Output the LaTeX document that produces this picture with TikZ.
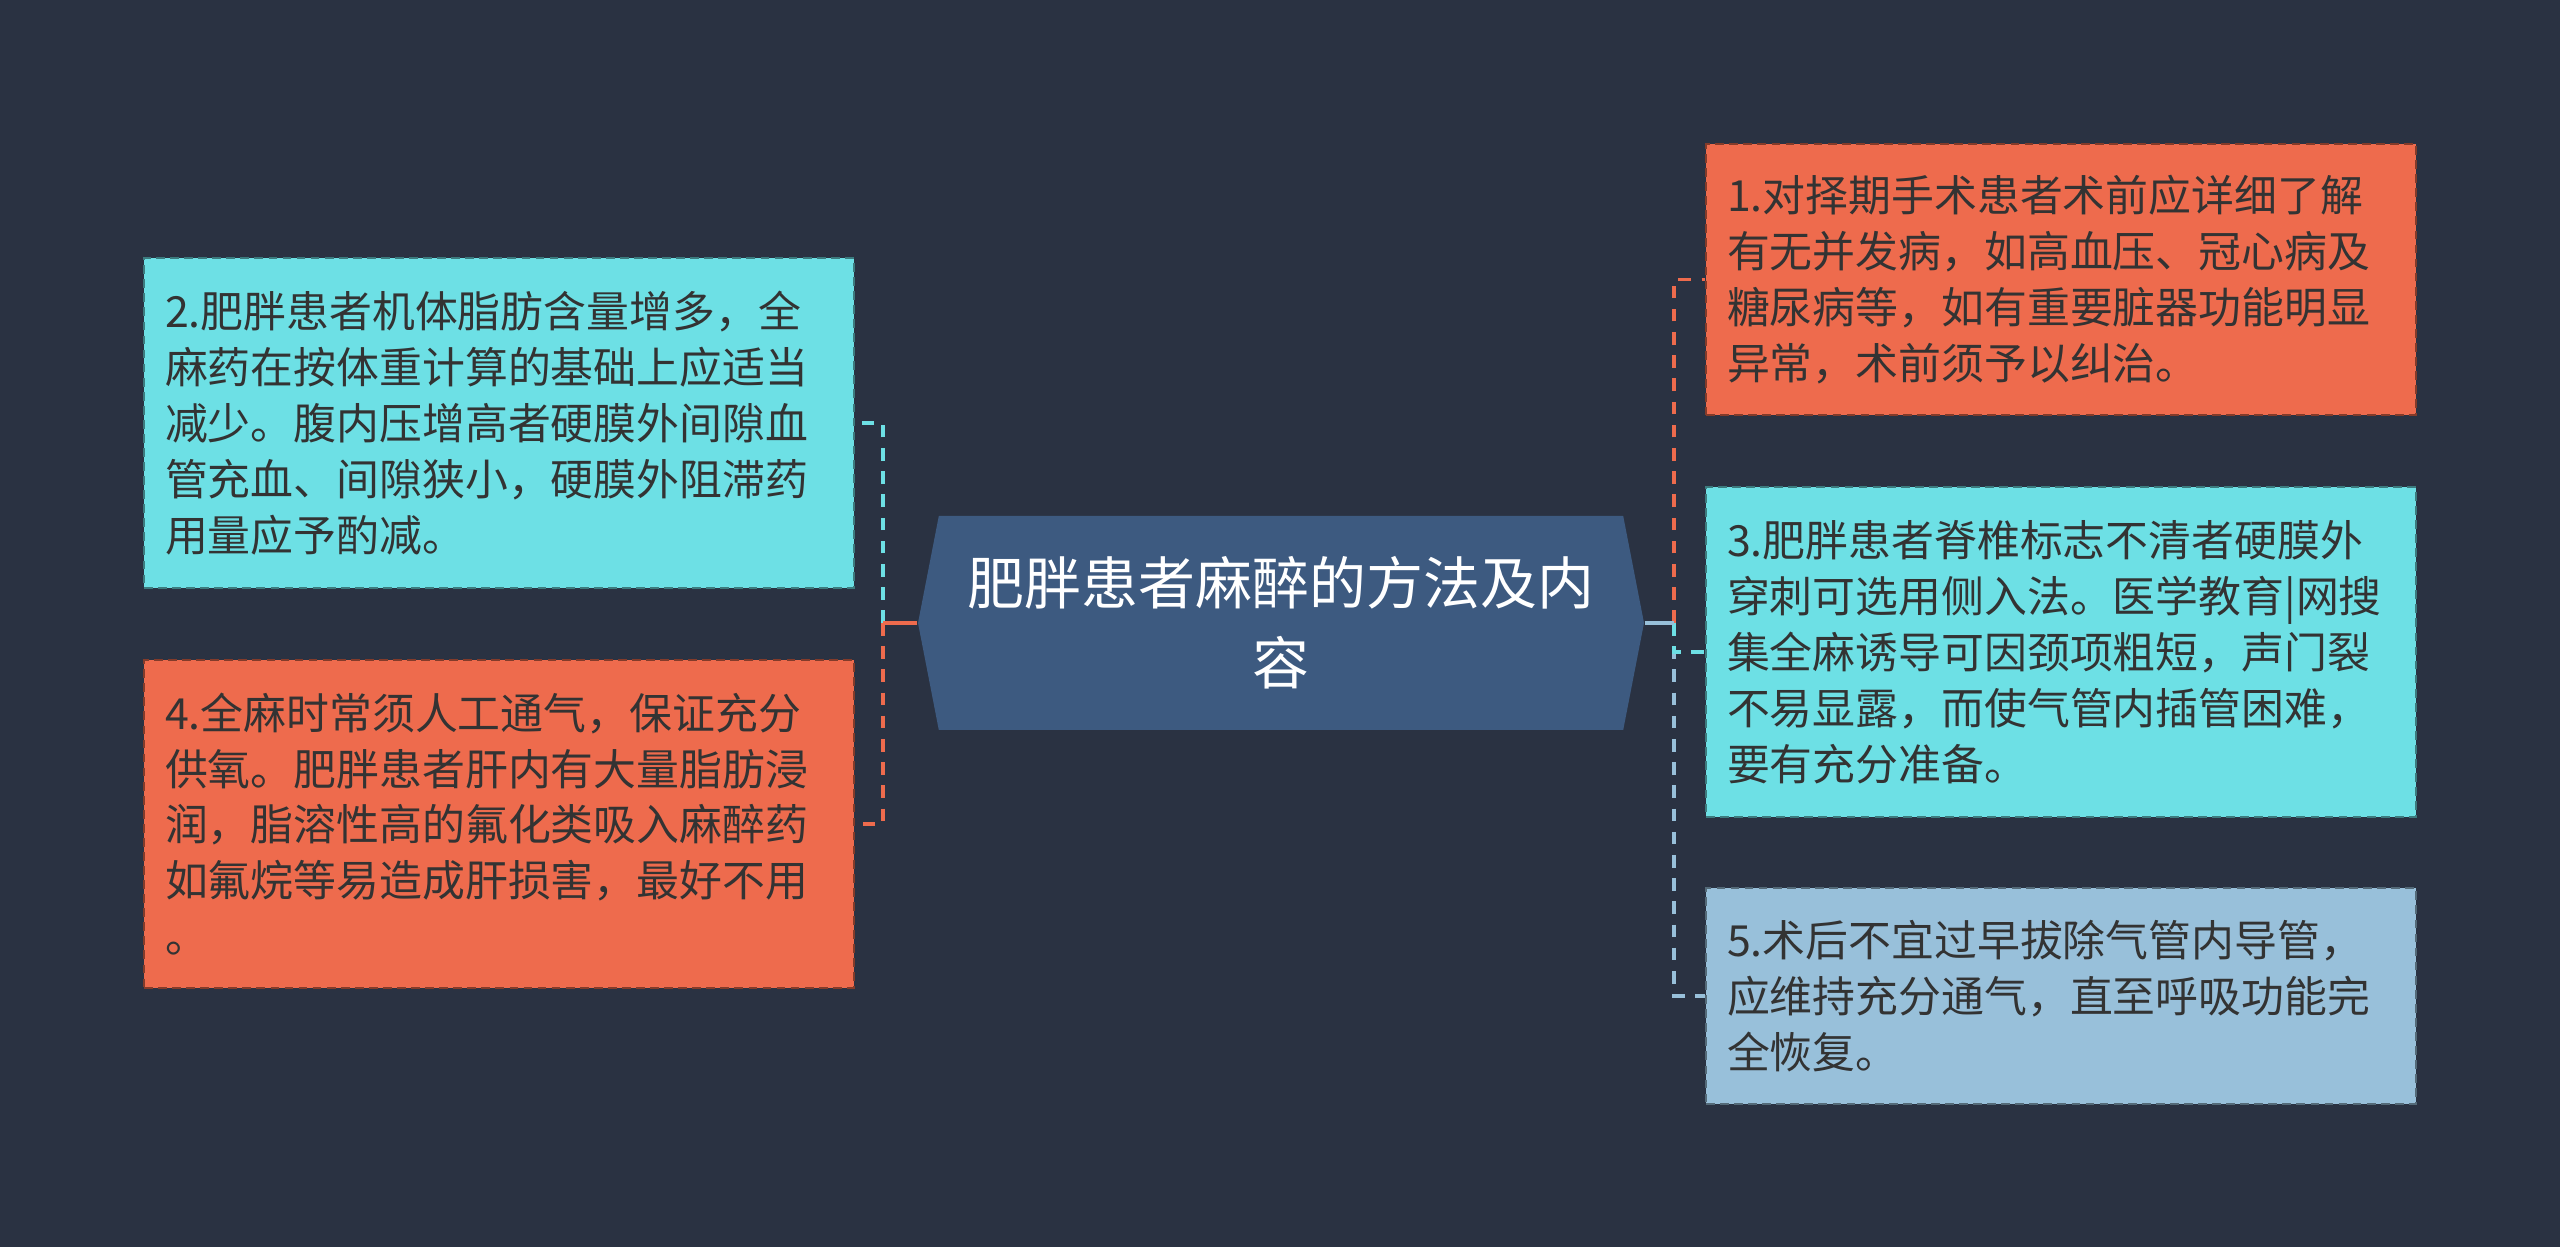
\documentclass[tikz,border=0pt]{standalone}
\usepackage{fontspec}
\setmainfont{Noto Sans CJK SC}
\usepackage{tikz}
\usetikzlibrary{shapes.symbols}
\definecolor{bgcol}{HTML}{2A3242}
\definecolor{hubcol}{HTML}{3D5A80}
\definecolor{orangecol}{HTML}{EE6B4D}
\definecolor{cyancol}{HTML}{6DE0E5}
\definecolor{bluecol}{HTML}{98C0DA}
\definecolor{textcol}{HTML}{333333}

\begin{document}
\begin{tikzpicture}[
        hub/.style={shape=signal, signal to=west and east, signal pointer angle=158,
            fill=hubcol, text=white, minimum width=7.26cm, minimum height=2.14cm,
            text width=6.6cm, align=center, inner sep=0pt,
            font=\fontsize{16.2pt}{22.8pt}\selectfont},
        leaf/.style={draw=#1!55!black, fill=#1, line width=0.6pt,
            dash pattern=on 2.5pt off 1.5pt, text=textcol, minimum width=7.1cm,
            text width=6.68cm, inner xsep=0.21cm, align=left,
            font=\fontsize{12.2pt}{15.9pt}\selectfont},
        link/.style={#1, line width=1.1pt, dash pattern=on 3.6pt off 3pt},
        stub/.style={#1, line width=1.1pt}
    ]
        \fill[bgcol] (0,0) rectangle (25.6,12.47);

        \node[hub] (hub) at (12.81,6.24) {肥胖患者麻醉的方法及内\\容};

        \node[leaf=cyancol, minimum height=3.30cm] (two) at (4.99,8.24)
            {2.肥胖患者机体脂肪含量增多，全\\麻药在按体重计算的基础上应适当\\减少。腹内压增高者硬膜外间隙血\\管充血、间隙狭小，硬膜外阻滞药\\用量应予酌减。};
        \node[leaf=orangecol, minimum height=3.28cm] (four) at (4.99,4.23)
            {4.全麻时常须人工通气，保证充分\\供氧。肥胖患者肝内有大量脂肪浸\\润，脂溶性高的氟化类吸入麻醉药\\如氟烷等易造成肝损害，最好不用\\。};
        \node[leaf=orangecol, minimum height=2.71cm] (one) at (20.61,9.675)
            {1.对择期手术患者术前应详细了解\\有无并发病，如高血压、冠心病及\\糖尿病等，如有重要脏器功能明显\\异常，术前须予以纠治。};
        \node[leaf=cyancol, minimum height=3.30cm] (three) at (20.61,5.95)
            {3.肥胖患者脊椎标志不清者硬膜外\\穿刺可选用侧入法。医学教育|网搜\\集全麻诱导可因颈项粗短，声门裂\\不易显露，而使气管内插管困难，\\要有充分准备。};
        \node[leaf=bluecol, minimum height=2.16cm] (five) at (20.61,2.51)
            {5.术后不宜过早拔除气管内导管，\\应维持充分通气，直至呼吸功能完\\全恢复。};

        \coordinate (lj) at (8.83,6.24);
        \coordinate (rj) at (16.74,6.24);

        \draw[link=cyancol] (lj) |- (two.east);
        \draw[link=orangecol] (lj) |- (four.east);
        \draw[stub=orangecol] (hub.west) -- (lj);

        \draw[link=orangecol] (rj) |- (one.west);
        \draw[link=bluecol] (rj) |- (five.west);
        \draw[link=cyancol] (rj) |- (three.west);
        \draw[stub=bluecol] (hub.east) -- (rj);
\end{tikzpicture}
\end{document}
